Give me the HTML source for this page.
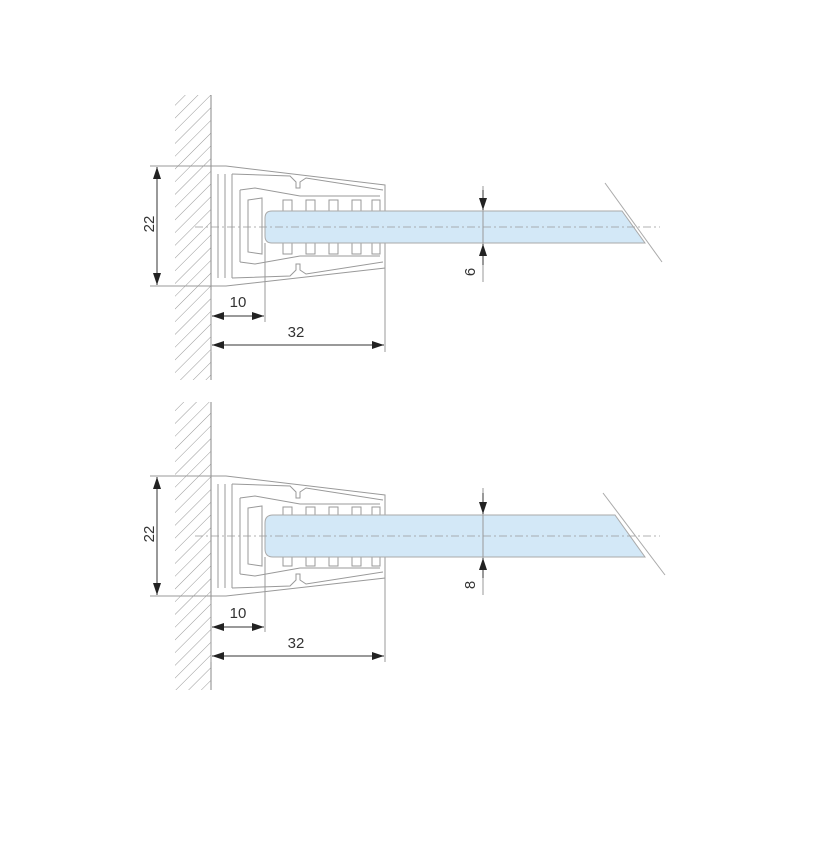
<!DOCTYPE html>
<html><head><meta charset="utf-8"><style>html,body{margin:0;padding:0;background:#fff}svg{display:block}</style></head><body>
<svg width="828" height="844" viewBox="0 0 828 844" xmlns="http://www.w3.org/2000/svg" font-family="Liberation Sans, sans-serif">
<defs>
<pattern id="h" width="9" height="9" patternUnits="userSpaceOnUse" patternTransform="rotate(45)">
<line x1="0" y1="0" x2="0" y2="9" stroke="#999" stroke-width="1"/>
</pattern>
<marker id="a" markerWidth="12" markerHeight="8" refX="12" refY="4" orient="auto" markerUnits="userSpaceOnUse"><path d="M0,0 L12,4 L0,8 z" fill="#222"/></marker>
</defs>

<!-- ============ TOP ============ -->
<g id="top">
<rect x="175" y="95" width="36" height="285" fill="url(#h)"/>
<line x1="211" y1="95" x2="211" y2="380" stroke="#888" stroke-width="1"/>
<g fill="none" stroke="#999" stroke-width="1">
<!-- outer bracket -->
<path d="M150,166 L226,166 L385,185 L385,268 L226,286 L150,286"/>
<!-- inner outlines -->
<path d="M218,174 L218,278 M225,174 L225,278"/>
<path d="M232,174 L290,176 L296,182 L296,188 L300,188 L300,182 L306,178 L383,190"/>
<path d="M232,278 L290,276 L296,270 L296,264 L300,264 L300,270 L306,274 L383,262"/>
<path d="M232,174 L232,278"/>
<path d="M240,190 L255,188 L300,196 L380,196 M240,262 L255,264 L300,256 L380,256"/>
<path d="M240,190 L240,262"/>
<path d="M248,200 L262,198 L262,254 L248,252 Z"/>
<!-- comb teeth -->
<path d="M283,211 L283,200 L292,200 L292,211 M306,211 L306,200 L315,200 L315,211 M329,211 L329,200 L338,200 L338,211 M352,211 L352,200 L361,200 L361,211 M372,211 L372,200 L380,200 L380,211"/>
<path d="M283,243 L283,254 L292,254 L292,243 M306,243 L306,254 L315,254 L315,243 M329,243 L329,254 L338,254 L338,243 M352,243 L352,254 L361,254 L361,243 M372,243 L372,254 L380,254 L380,243"/>
</g>
<!-- glass -->
<path d="M272,211 L622,211 L645,243 L272,243 Q265,243 265,236 L265,218 Q265,211 272,211 Z" fill="#d3e8f7" stroke="#aaa" stroke-width="1"/>
<line x1="605" y1="183" x2="662" y2="262" stroke="#aaa" stroke-width="1"/>
<line x1="195" y1="227" x2="660" y2="227" stroke="#999" stroke-width="0.8" stroke-dasharray="8,3,2,3"/>
<!-- extension lines -->
<g stroke="#999" stroke-width="1">
<line x1="265" y1="243" x2="265" y2="322"/>
<line x1="385" y1="268" x2="385" y2="352"/>
<line x1="211" y1="290" x2="211" y2="352"/>
<line x1="483" y1="186" x2="483" y2="282"/>
</g>
<!-- dims -->
<g stroke="#333" stroke-width="1">
<line x1="157" y1="226" x2="157" y2="167" marker-end="url(#a)"/>
<line x1="157" y1="226" x2="157" y2="285" marker-end="url(#a)"/>
<line x1="238" y1="316" x2="212" y2="316" marker-end="url(#a)"/>
<line x1="238" y1="316" x2="264" y2="316" marker-end="url(#a)"/>
<line x1="298" y1="345" x2="212" y2="345" marker-end="url(#a)"/>
<line x1="298" y1="345" x2="384" y2="345" marker-end="url(#a)"/>
<line x1="483" y1="190" x2="483" y2="210" marker-end="url(#a)"/>
<line x1="483" y1="265" x2="483" y2="244" marker-end="url(#a)"/>
</g>
<g fill="#333" font-size="15">
<text x="150" y="224" text-anchor="middle" transform="rotate(-90 150 224)" dominant-baseline="middle">22</text>
<text x="238" y="307" text-anchor="middle">10</text>
<text x="296" y="337" text-anchor="middle">32</text>
<text x="471" y="272" text-anchor="middle" transform="rotate(-90 471 272)" dominant-baseline="middle">6</text>
</g>
</g>

<!-- ============ BOTTOM ============ -->
<g>
<rect x="175" y="402" width="36" height="288" fill="url(#h)"/>
<line x1="211" y1="402" x2="211" y2="690" stroke="#888" stroke-width="1"/>
<g fill="none" stroke="#999" stroke-width="1" transform="translate(0,310)">
<path d="M150,166 L226,166 L385,185 L385,268 L226,286 L150,286"/>
<path d="M218,174 L218,278 M225,174 L225,278"/>
<path d="M232,174 L290,176 L296,182 L296,188 L300,188 L300,182 L306,178 L383,190"/>
<path d="M232,278 L290,276 L296,270 L296,264 L300,264 L300,270 L306,274 L383,262"/>
<path d="M232,174 L232,278"/>
<path d="M240,188 L255,186 L300,194 L380,194 M240,264 L255,266 L300,258 L380,258"/>
<path d="M240,188 L240,264"/>
<path d="M248,198 L262,196 L262,256 L248,254 Z"/>
<path d="M283,205 L283,197 L292,197 L292,205 M306,205 L306,197 L315,197 L315,205 M329,205 L329,197 L338,197 L338,205 M352,205 L352,197 L361,197 L361,205 M372,205 L372,197 L380,197 L380,205"/>
<path d="M283,247 L283,256 L292,256 L292,247 M306,247 L306,256 L315,256 L315,247 M329,247 L329,256 L338,256 L338,247 M352,247 L352,256 L361,256 L361,247 M372,247 L372,256 L380,256 L380,247"/>
</g>
<path d="M273,515 L615,515 L645,557 L273,557 Q265,557 265,549 L265,523 Q265,515 273,515 Z" fill="#d3e8f7" stroke="#aaa" stroke-width="1"/>
<line x1="603" y1="493" x2="665" y2="575" stroke="#aaa" stroke-width="1"/>
<line x1="195" y1="536" x2="660" y2="536" stroke="#999" stroke-width="0.8" stroke-dasharray="8,3,2,3"/>
<g stroke="#999" stroke-width="1">
<line x1="265" y1="557" x2="265" y2="632"/>
<line x1="385" y1="578" x2="385" y2="662"/>
<line x1="211" y1="600" x2="211" y2="662"/>
<line x1="483" y1="488" x2="483" y2="595"/>
</g>
<g stroke="#333" stroke-width="1">
<line x1="157" y1="536" x2="157" y2="477" marker-end="url(#a)"/>
<line x1="157" y1="536" x2="157" y2="595" marker-end="url(#a)"/>
<line x1="238" y1="627" x2="212" y2="627" marker-end="url(#a)"/>
<line x1="238" y1="627" x2="264" y2="627" marker-end="url(#a)"/>
<line x1="298" y1="656" x2="212" y2="656" marker-end="url(#a)"/>
<line x1="298" y1="656" x2="384" y2="656" marker-end="url(#a)"/>
<line x1="483" y1="493" x2="483" y2="514" marker-end="url(#a)"/>
<line x1="483" y1="578" x2="483" y2="558" marker-end="url(#a)"/>
</g>
<g fill="#333" font-size="15">
<text x="150" y="534" text-anchor="middle" transform="rotate(-90 150 534)" dominant-baseline="middle">22</text>
<text x="238" y="618" text-anchor="middle">10</text>
<text x="296" y="648" text-anchor="middle">32</text>
<text x="471" y="585" text-anchor="middle" transform="rotate(-90 471 585)" dominant-baseline="middle">8</text>
</g>
</g>
</svg>
</body></html>
